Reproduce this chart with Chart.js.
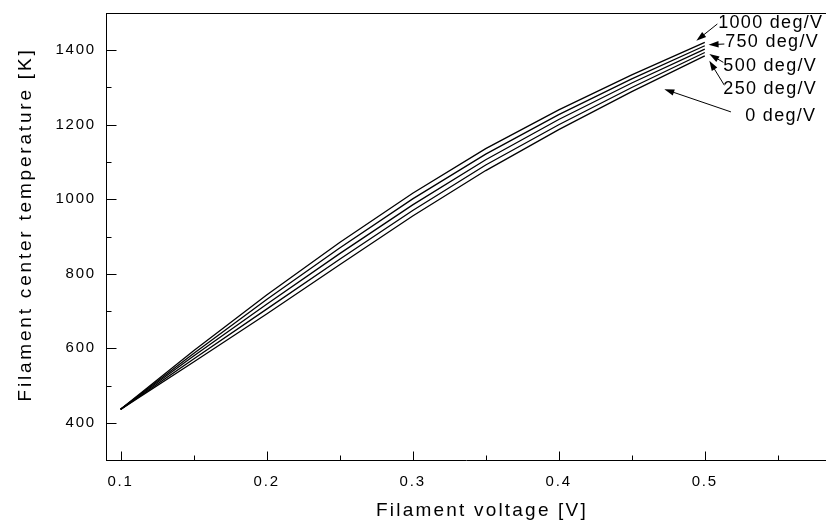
<!DOCTYPE html>
<html>
<head>
<meta charset="utf-8">
<script src="https://cdn.jsdelivr.net/npm/chart.js@4/dist/chart.umd.min.js"></script>
<style>
  html,body{margin:0;padding:0;background:#fff;}
  #wrap{width:826px;height:525px;}
</style>
</head>
<body>
<div id="wrap"><canvas id="c" width="826" height="525"></canvas></div>
<script>
// ---- data ----
const voltages = [0.1, 0.15, 0.2, 0.25, 0.3, 0.35, 0.4, 0.45, 0.5];
const temp0    = [436, 563, 692, 824, 955, 1077, 1187, 1289, 1385];
const temp250  = [436, 571, 705, 839, 970, 1092, 1200, 1300, 1394];
const temp500  = [436, 579, 718, 854, 985, 1106, 1214, 1312, 1403];
const temp750  = [436, 586, 731, 869, 1001, 1121, 1227, 1323, 1412];
const temp1000 = [436, 593, 743, 884, 1016, 1136, 1240, 1334, 1421];
const seriesNames = ['0 deg/V', '250 deg/V', '500 deg/V', '750 deg/V', '1000 deg/V'];
const seriesData = [temp0, temp250, temp500, temp750, temp1000];

const xTicks = [0.1, 0.2, 0.3, 0.4, 0.5];
const xMinorTicks = [0.15, 0.25, 0.35, 0.45, 0.55];
const yTicks = [400, 600, 800, 1000, 1200, 1400];
const yMinorTicks = [500, 700, 900, 1100, 1300];

// label annotations (in data units): text position and arrow tail/head
const labelX    = [0.5277, 0.5127, 0.5127, 0.514, 0.5092];
const labelY    = [1223.7, 1295.5, 1358, 1421, 1473];
const arrowFromX = [0.5179, 0.5134, 0.5127, 0.5134, 0.5086];
const arrowFromY = [1234.5, 1306, 1367.5, 1416.7, 1470.5];
const arrowToX   = [0.4723, 0.5031, 0.5031, 0.5026, 0.4942];
const arrowToY   = [1295.5, 1371.8, 1389.8, 1414.8, 1425.6];

const FONT = "'Liberation Sans', Arial, sans-serif";

const datasets = seriesData.map((arr, i) => ({
  label: seriesNames[i],
  data: voltages.map((v, j) => ({x: v, y: arr[j]})),
  borderColor: '#000',
  borderWidth: 1.3,
  pointRadius: 0,
  tension: 0,
  fill: false
}));

// title styling tweaks: letter spacing and offset of title centre
const titleStyle = {
  x: { spacing: '2.2px', dx: 16, dy: 0 },
  y: { spacing: '2.8px', dx: 0, dy: -12 }
};

const spacingPlugin = {
  id: 'spacing',
  beforeUpdate(chart){ chart.ctx.letterSpacing = '1.8px'; },
  beforeDraw(chart){
    chart.ctx.letterSpacing = '1.8px';
    Object.values(chart.scales).forEach(s => {
      if (s._ltPatched) return;
      const orig = s.drawTitle;
      const st = titleStyle[s.id];
      s.drawTitle = function(){
        const c = this.ctx;
        c.save();
        c.letterSpacing = st.spacing;
        c.translate(st.dx, st.dy);
        orig.apply(this, arguments);
        c.restore();
      };
      s._ltPatched = true;
    });
  }
};

function arrow(ctx, x1, y1, x2, y2){
  const ang = Math.atan2(y2 - y1, x2 - x1);
  const hl = 10, hw = 3.2;
  ctx.beginPath();
  ctx.moveTo(x1, y1);
  ctx.lineTo(x2 - Math.cos(ang) * hl * 0.8, y2 - Math.sin(ang) * hl * 0.8);
  ctx.stroke();
  ctx.beginPath();
  ctx.moveTo(x2, y2);
  ctx.lineTo(x2 - Math.cos(ang) * hl - Math.sin(ang) * hw, y2 - Math.sin(ang) * hl + Math.cos(ang) * hw);
  ctx.lineTo(x2 - Math.cos(ang) * hl + Math.sin(ang) * hw, y2 - Math.sin(ang) * hl - Math.cos(ang) * hw);
  ctx.closePath();
  ctx.fill();
}

const decorPlugin = {
  id: 'decor',
  afterDraw(chart){
    const ctx = chart.ctx;
    const xs = chart.scales.x, ys = chart.scales.y;
    const a = chart.chartArea;
    ctx.save();
    ctx.strokeStyle = '#000';
    ctx.fillStyle = '#000';
    ctx.lineWidth = 1;
    // top frame line
    ctx.beginPath();
    ctx.moveTo(a.left, Math.round(a.top) + 0.5);
    ctx.lineTo(a.right, Math.round(a.top) + 0.5);
    ctx.stroke();
    // inward ticks
    const xb = Math.round(a.bottom) + 0.5;
    xTicks.forEach(v => { const p = Math.round(xs.getPixelForValue(v)) + 0.5; ctx.beginPath(); ctx.moveTo(p, xb); ctx.lineTo(p, xb - 9); ctx.stroke(); });
    xMinorTicks.forEach(v => { const p = Math.round(xs.getPixelForValue(v)) + 0.5; ctx.beginPath(); ctx.moveTo(p, xb); ctx.lineTo(p, xb - 5); ctx.stroke(); });
    const yl = Math.round(a.left) + 0.5;
    yTicks.forEach(v => { const p = Math.round(ys.getPixelForValue(v)) + 0.5; ctx.beginPath(); ctx.moveTo(yl, p); ctx.lineTo(yl + 10, p); ctx.stroke(); });
    yMinorTicks.forEach(v => { const p = Math.round(ys.getPixelForValue(v)) + 0.5; ctx.beginPath(); ctx.moveTo(yl, p); ctx.lineTo(yl + 5, p); ctx.stroke(); });
    // labels + arrows
    ctx.letterSpacing = '1.3px';
    ctx.font = '18px ' + FONT;
    ctx.textBaseline = 'middle';
    ctx.textAlign = 'left';
    seriesNames.forEach((name, i) => {
      ctx.fillText(name, xs.getPixelForValue(labelX[i]), ys.getPixelForValue(labelY[i]));
      arrow(ctx, xs.getPixelForValue(arrowFromX[i]), ys.getPixelForValue(arrowFromY[i]),
                 xs.getPixelForValue(arrowToX[i]), ys.getPixelForValue(arrowToY[i]));
    });
    ctx.restore();
  }
};

new Chart(document.getElementById('c'), {
  type: 'line',
  data: { datasets },
  plugins: [spacingPlugin, decorPlugin],
  options: {
    responsive: false,
    animation: false,
    devicePixelRatio: 1,
    layout: { padding: { top: 13, right: 0, left: 0, bottom: 0 } },
    plugins: { legend: { display: false }, tooltip: { enabled: false } },
    scales: {
      x: {
        type: 'linear',
        min: 0.09, max: 0.583,
        afterBuildTicks(s){ s.ticks = xTicks.map(v => ({value: v})); },
        afterFit(s){ s.height = 65; s.paddingLeft = 0; s.paddingRight = 0; },
        grid: { display: false, drawTicks: false },
        border: { display: true, color: '#000', width: 1 },
        ticks: { color: '#000', font: { family: FONT, size: 15 }, padding: 13, maxRotation: 0,
                 callback: v => v.toFixed(1) },
        title: { display: true, text: 'Filament voltage [V]', color: '#000',
                 font: { family: FONT, size: 19 }, padding: { top: 0, bottom: 3 } }
      },
      y: {
        type: 'linear',
        min: 300, max: 1500,
        afterBuildTicks(s){ s.ticks = yTicks.map(v => ({value: v})); },
        afterFit(s){ s.width = 106; s.paddingTop = 0; s.paddingBottom = 0; },
        grid: { display: false, drawTicks: false },
        border: { display: true, color: '#000', width: 1 },
        ticks: { color: '#000', font: { family: FONT, size: 15 }, padding: 10,
                 callback: v => String(v) },
        title: { display: true, text: 'Filament center temperature [K]', color: '#000',
                 font: { family: FONT, size: 19 }, padding: { top: 14, bottom: 0 } }
      }
    }
  }
});
</script>
</body>
</html>
